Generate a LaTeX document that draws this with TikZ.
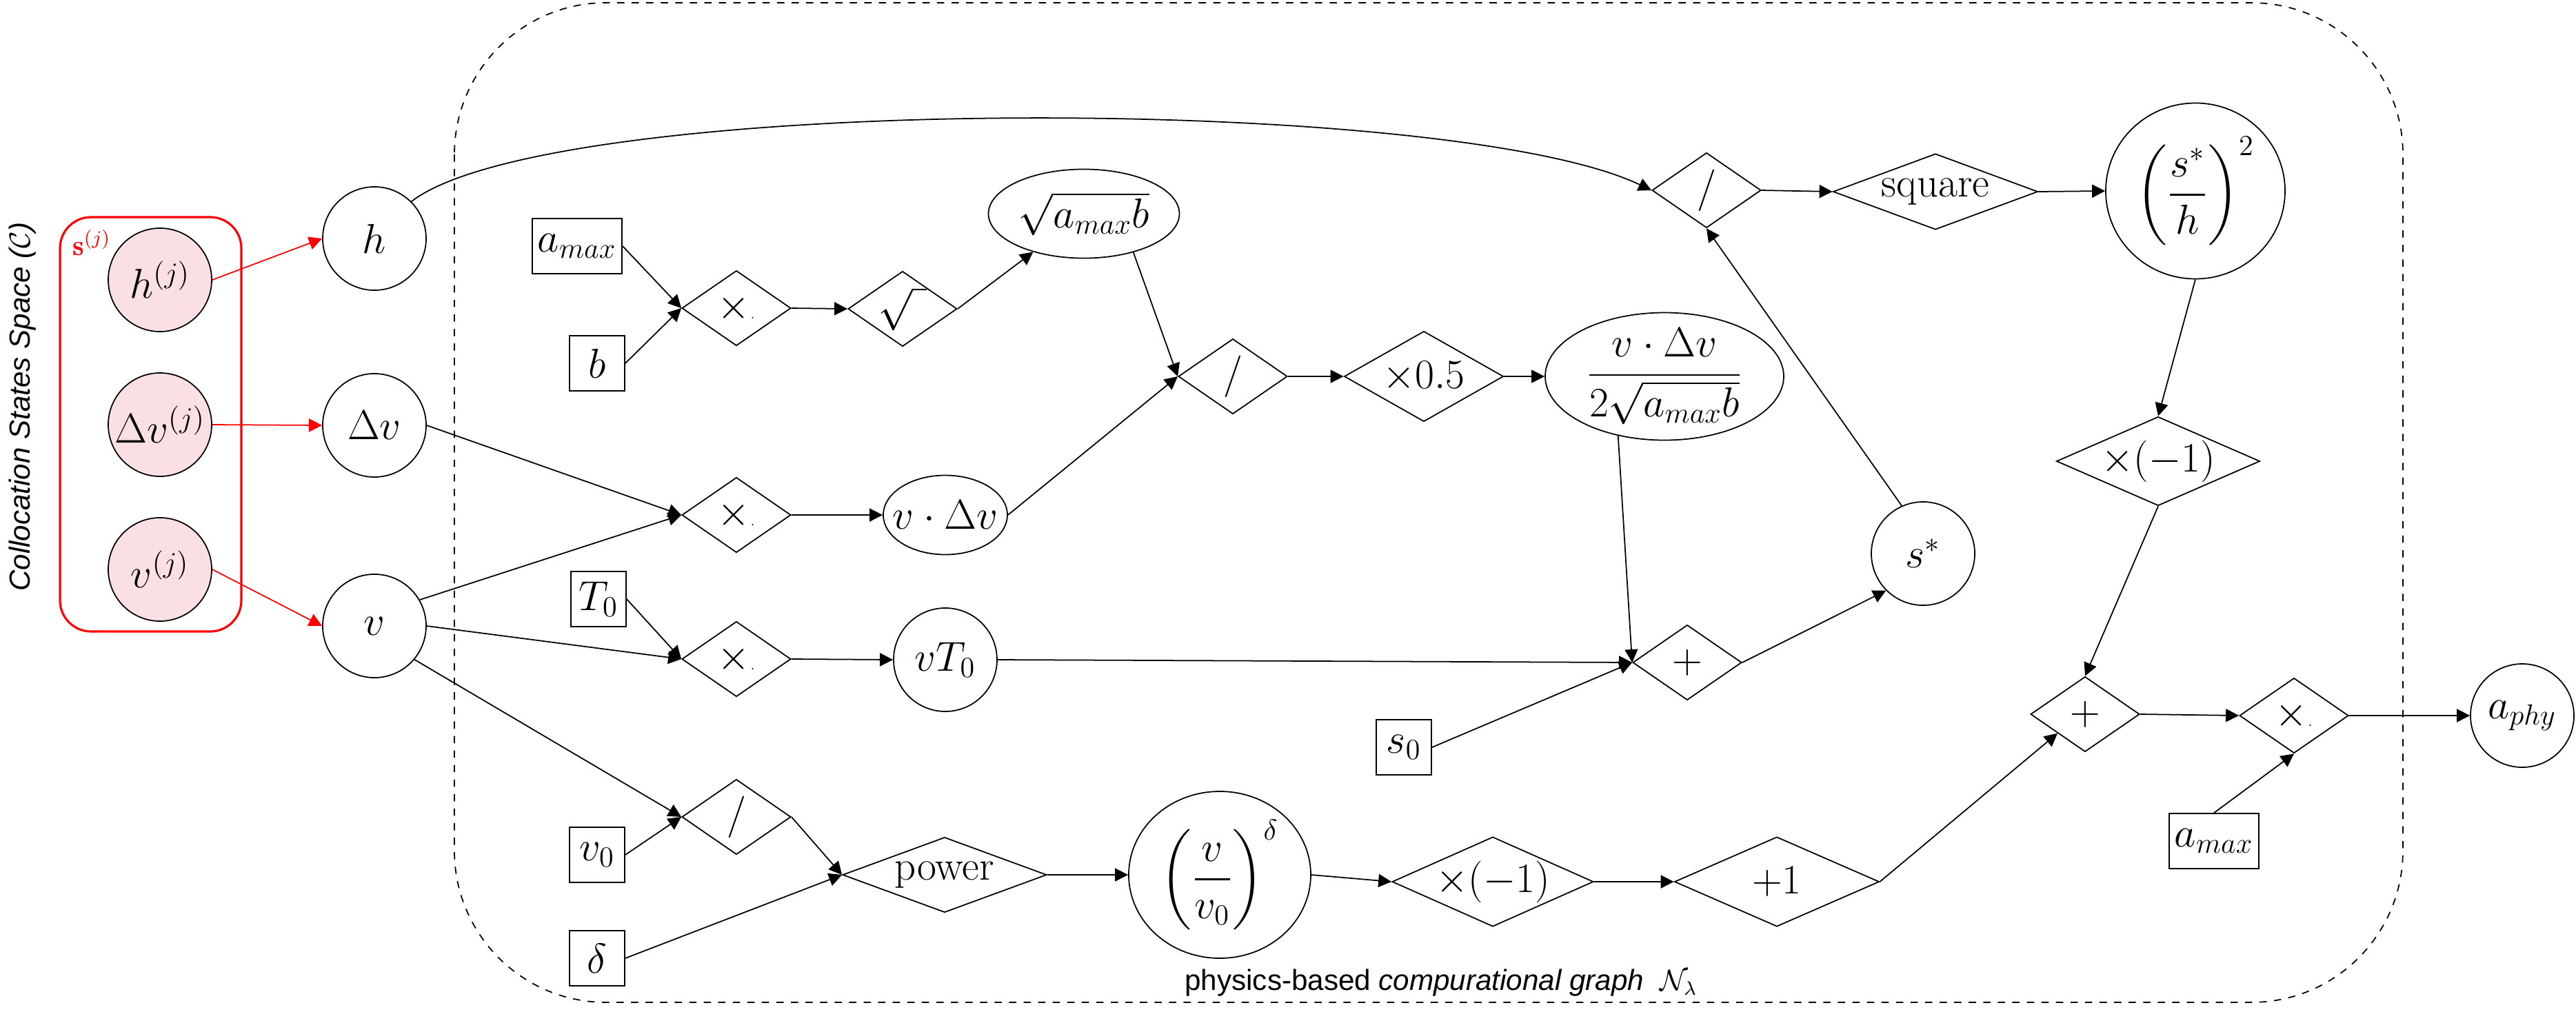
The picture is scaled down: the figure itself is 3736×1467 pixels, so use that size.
\documentclass[tikz,border=0pt]{standalone}
\usepackage{amsmath}
\usepackage{fontspec}
\setsansfont{Liberation Sans}
\usetikzlibrary{shapes.geometric,arrows.meta}

\definecolor{statepink}{RGB}{250,223,227}

\tikzset{
	zw/.style={execute at begin node={\hbox to 0pt\bgroup\hss}, execute at end node={\hss\egroup}},
	gnode/.style={draw, zw, inner sep=0pt, font=\LARGE},
	var/.style={gnode, circle, minimum size=15mm},
	state/.style={var, fill=statepink},
	res/.style={gnode, ellipse},
	op/.style={gnode, diamond, minimum width=15.8mm, minimum height=10.9mm},
	param/.style={draw, rectangle, inner xsep=0.8mm, inner ysep=0pt, minimum width=8mm, minimum height=8mm, font=\LARGE},
	note/.style={font=\sffamily\large}
}

\begin{document}
\begin{tikzpicture}[x=0.1mm, y=-0.1mm, line width=0.5pt, >={Triangle[length=1.9mm,width=1.9mm]}]

	\useasboundingbox (0,0) rectangle (3736,1467);

	% collocation states
	\draw[red, line width=0.9pt, rounded corners=4.5mm] (87,315) rectangle (350,916);
	\node[red, font=\large] (sj) at (133,352) {$\mathbf{s}^{(j)}$};
	\node[state] (hj) at (232,406) {$h^{(j)}$};
	\node[state] (dvj) at (232,616) {$\Delta v^{(j)}$};
	\node[state] (vj) at (232,826) {$v^{(j)}$};
	\node[note, rotate=90] (css) at (33,590) {\itshape Collocation States Space ($\mathcal{C}$)};

	\node[var] (h) at (543,346) {$h$};
	\node[var] (dv) at (543,617) {$\Delta v$};
	\node[var] (v) at (543,908) {$v$};

	\draw[red, ->] (hj.east) -- (h.west);
	\draw[red, ->] (dvj.east) -- (dv.west);
	\draw[red, ->] (vj.east) -- (v.west);

	% computational graph
	\draw[dashed, rounded corners=22mm] (659,4) rectangle (3485,1454);
	\node[note] (graph) at (2090,1426) {physics-based \textit{compurational graph}\ \ $\mathcal{N}_\lambda$};

	\node[param] (amax1) at (837,357) {$a_{max}$};
	\node[param] (b) at (866,527) {$b$};
	\node[param] (T0) at (868,869) {$T_0$};
	\node[param] (v0) at (866,1240) {$v_0$};
	\node[param] (delta) at (866,1390) {$\delta$};
	\node[param] (s0) at (2036,1084) {$s_0$};
	\node[param] (amax2) at (3211,1220) {$a_{max}$};

	\node[op] (mul1) at (1068,447) {$\times${\tiny .}};
	\node[op] (sqrtop) at (1309,448) {$\sqrt{\,\,}$};
	\node[op] (mul2) at (1068,747) {$\times${\tiny .}};
	\node[op] (mul3) at (1068,956) {$\times${\tiny .}};
	\node[op] (div1) at (1068,1185) {$/$};
	\node[op, minimum width=29.6mm] (power) at (1370,1269) {power};
	\node[op] (div2) at (1788,546) {$/$};
	\node[op, minimum width=23.1mm, minimum height=13.1mm] (half) at (2065,546) {$\times 0.5$};
	\node[op] (div3) at (2475,276) {$/$};
	\node[op, minimum width=29.7mm, minimum height=11mm] (square) at (2807,278) {square};
	\node[op, minimum width=29.5mm, minimum height=12.9mm] (neg1) at (3130,669) {$\times(-1)$};
	\node[op] (plus1) at (2447,961) {$+$};
	\node[op, minimum width=29.2mm, minimum height=13mm] (neg2) at (2165,1279) {$\times(-1)$};
	\node[op, minimum width=29.7mm, minimum height=13mm] (plusone) at (2577,1279) {$+1$};
	\node[op] (plus2) at (3024,1036) {$+$};
	\node[op] (mul4) at (3327,1038) {$\times${\tiny .}};

	\node[res, minimum width=27.7mm, minimum height=12.9mm] (sqrtab) at (1572,310) {$\sqrt{a_{max}b}$};
	\node[res, minimum width=18mm, minimum height=11.5mm] (vdv) at (1371,747) {$v\cdot\Delta v$};
	\node[var] (vT0) at (1371,957) {$vT_0$};
	\node[res, inner ysep=-1mm, minimum width=34.6mm, minimum height=18.5mm] (frac) at (2414,546) {$\dfrac{v\cdot\Delta v}{2\sqrt{a_{max}b}}$};
	\node[res, inner ysep=-1mm, minimum width=26.4mm, minimum height=24.2mm] (powv) at (1769,1269) {$\biggl(\dfrac{v}{v_0}\biggr)^{\delta}$};
	\node[res, inner ysep=-1mm, minimum width=26mm, minimum height=25.5mm] (sq) at (3184,277) {$\biggl(\dfrac{s^*}{h}\biggr)^{2}$};
	\node[var] (sstar) at (2789,803) {$s^*$};
	\node[var] (aphy) at (3658,1038) {$a_{phy}$};

	\draw[->] (amax1.east) -- (mul1.west);
	\draw[->] (b.east) -- (mul1.west);
	\draw[->] (mul1.east) -- (sqrtop.west);
	\draw[->] (sqrtop.east) -- (sqrtab);
	\draw[->] (sqrtab.-38) -- (div2.west);

	\draw[->] (dv.east) -- (mul2.west);
	\draw[->] (v.30) -- (mul2.west);
	\draw[->] (mul2.east) -- (vdv.west);
	\draw[->] (vdv.east) -- (div2.west);
	\draw[->] (div2.east) -- (half.west);
	\draw[->] (half.east) -- (frac.west);

	\draw[->] (v.east) -- (mul3.west);
	\draw[->] (T0.east) -- (mul3.west);
	\draw[->] (mul3.east) -- (vT0.west);

	\draw[->] (v.-40) -- (div1.west);
	\draw[->] (v0.east) -- (div1.west);
	\draw[->] (div1.east) -- (power.west);
	\draw[->] (delta.east) -- (power.west);
	\draw[->] (power.east) -- (powv.west);
	\draw[->] (powv.east) -- (neg2.west);
	\draw[->] (neg2.east) -- (plusone.west);
	\draw[->] (plusone.east) -- (plus2.south west);

	\draw[->] (frac.-128) -- (plus1.west);
	\draw[->] (vT0.east) -- (plus1.west);
	\draw[->] (s0.east) -- (plus1.west);
	\draw[->] (plus1.east) -- (sstar.225);
	\draw[->] (sstar.114) -- (div3.south);

	\draw[->] (h.45) .. controls (800,135) and (2100,135) .. (div3.west);
	\draw[->] (div3.east) -- (square.west);
	\draw[->] (square.east) -- (sq.west);
	\draw[->] (sq.south) -- (neg1.north);
	\draw[->] (neg1.south) -- (plus2.north);
	\draw[->] (plus2.east) -- (mul4.west);
	\draw[->] (amax2.north) -- (mul4.south);
	\draw[->] (mul4.east) -- (aphy.west);

\end{tikzpicture}
\end{document}
